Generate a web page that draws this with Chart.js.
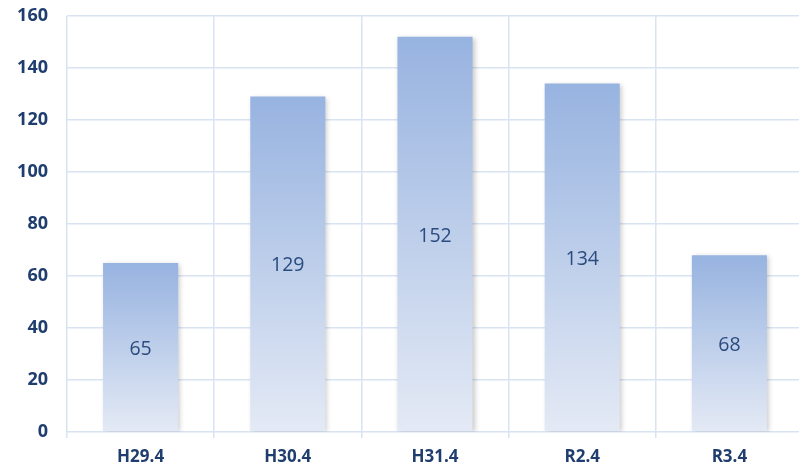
<!DOCTYPE html>
<html><head><meta charset="utf-8">
<script src="https://cdn.jsdelivr.net/npm/chart.js@4"></script>
<style>
html,body{margin:0;padding:0;background:#fff;overflow:hidden;}
canvas{display:block;}
</style></head>
<body><canvas id="c" width="803" height="470" style="width:803px;height:470px"></canvas>
<script>
const categories = ["H29.4","H30.4","H31.4","R2.4","R3.4"];
const values = [65,129,152,134,68];
const yTicks = [0,20,40,60,80,100,120,140,160];

const textColor = "#1f3d6e";
const gridColor = "#d9e4f3";
const fontFam = "'Open Sans', 'Noto Sans', sans-serif";

const barGradient = (ctx) => {
  const chart = ctx.chart;
  const y = chart.scales.y;
  if (!y || !chart.chartArea || ctx.raw === undefined) return "#9bb5e0";
  const top = y.getPixelForValue(ctx.raw);
  const base = y.getPixelForValue(0);
  if (!isFinite(top) || !isFinite(base) || top === base) return "#9bb5e0";
  const g = chart.ctx.createLinearGradient(0, top, 0, base);
  g.addColorStop(0, "#97b3e0");
  g.addColorStop(1, "#e4eaf5");
  return g;
};

const shadowPlugin = {
  id: "shadow",
  beforeDatasetDraw(chart){ const c=chart.ctx; c.save(); c.shadowColor="rgba(0,0,0,0.22)"; c.shadowBlur=5; c.shadowOffsetX=2; c.shadowOffsetY=1; },
  afterDatasetDraw(chart){ chart.ctx.restore(); }
};
const labelPlugin = {
  id: "labels",
  afterDatasetsDraw(chart){
    const c = chart.ctx;
    const meta = chart.getDatasetMeta(0);
    c.save();
    c.fillStyle = "#2b4b7e";
    c.font = "19.5px " + fontFam;
    c.textAlign = "center"; c.textBaseline = "middle";
    meta.data.forEach((bar, i) => {
      c.fillText(String(values[i]), bar.x, (bar.y + bar.base) / 2 + 2);
    });
    c.restore();
  }
};

new Chart(document.getElementById("c"), {
  type: "bar",
  data: { labels: categories, datasets: [{ data: values, backgroundColor: barGradient, borderWidth: 0, categoryPercentage: 1.0, barPercentage: 0.51 }] },
  options: {
    responsive: false, maintainAspectRatio: false, animation: false,
    layout: { padding: { left: 0, top: 16, right: 0, bottom: 0 } },
    plugins: { legend: { display: false }, tooltip: { enabled: false } },
    scales: {
      x: {
        afterFit(axis){ axis.height = 38; axis.paddingLeft = 0; axis.paddingRight = 0; },
        grid: { color: gridColor, lineWidth: 1.5, drawTicks: true, tickLength: 6, offset: true },
        border: { display: false },
        ticks: { color: textColor, font: { family: fontFam, size: 17, weight: "bold" }, padding: 9, maxRotation: 0 }
      },
      y: {
        min: 0, max: 160,
        afterFit(axis){ axis.width = 67; axis.paddingTop = 0; axis.paddingBottom = 0; },
        afterBuildTicks(axis){ axis.ticks = yTicks.map(v => ({ value: v })); },
        grid: { color: gridColor, lineWidth: 1.5, drawTicks: false },
        border: { display: false },
        ticks: { color: textColor, font: { family: fontFam, size: 18, weight: "bold" }, padding: 19 }
      }
    }
  },
  plugins: [shadowPlugin, labelPlugin]
});
</script></body></html>
